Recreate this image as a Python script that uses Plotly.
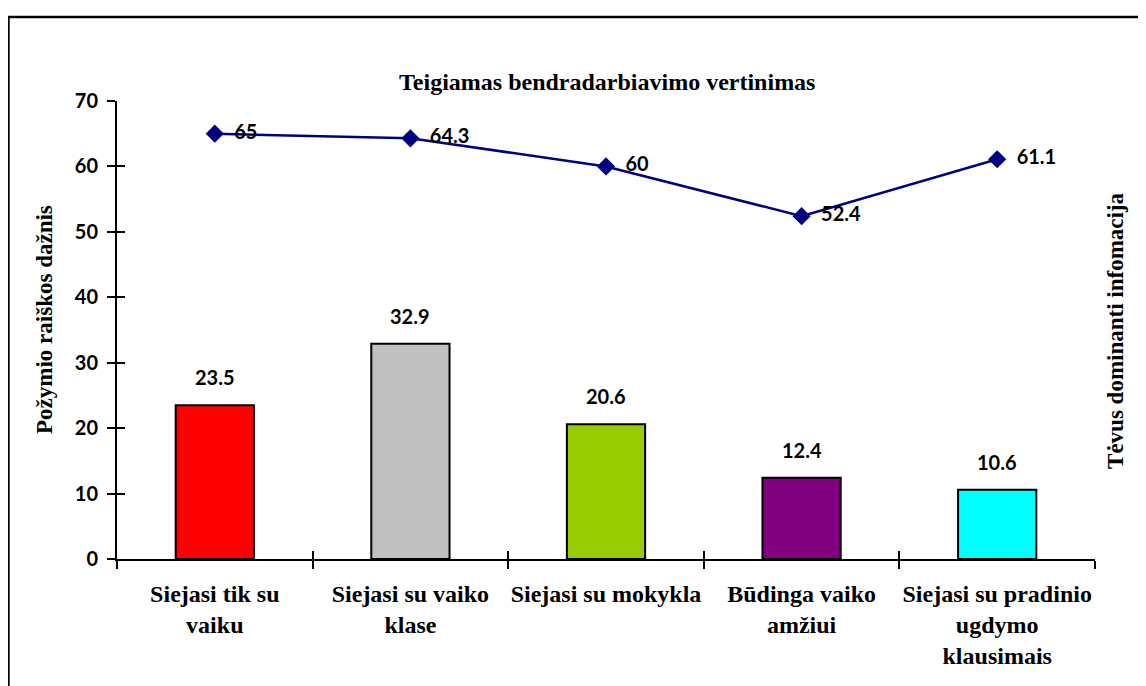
import plotly.graph_objects as go

categories = [
    "Siejasi tik su<br>vaiku",
    "Siejasi su vaiko<br>klase",
    "Siejasi su mokykla",
    "Būdinga vaiko<br>amžiui",
    "Siejasi su pradinio<br>ugdymo<br>klausimais",
]
bar_values = [23.5, 32.9, 20.6, 12.4, 10.6]
line_values = [65, 64.3, 60, 52.4, 61.1]
bar_colors = ["#FF0000", "#C0C0C0", "#99CC00", "#800080", "#00FFFF"]

SERIF = "Liberation Serif, Times New Roman, serif"
SANS = "Lato, Calibri, sans-serif"

fig = go.Figure()

fig.add_trace(
    go.Bar(
        x=categories,
        y=bar_values,
        width=0.4,
        marker=dict(color=bar_colors, line=dict(color="black", width=2)),
        showlegend=False,
        hoverinfo="skip",
    )
)

fig.add_trace(
    go.Scatter(
        x=categories,
        y=line_values,
        mode="lines+markers+text",
        line=dict(color="#000080", width=2.5),
        marker=dict(symbol="diamond", size=14, color="#000080"),
        text=[f"  {v:g}" for v in line_values],
        textposition="middle right",
        textfont=dict(family=SANS, size=20, color="black", weight="bold"),
        showlegend=False,
        hoverinfo="skip",
    )
)

# empty trace so the overlaid axes (inner half of the cross ticks) are drawn
fig.add_trace(go.Scatter(x=[], y=[], xaxis="x2", yaxis="y2", showlegend=False))

# bar value labels above bars
for c, v in zip(categories, bar_values):
    fig.add_annotation(
        x=c, y=v, text=f"{v:g}", showarrow=False, yshift=28,
        font=dict(family=SANS, size=20, color="black", weight="bold"),
    )

fig.add_annotation(
    xref="paper", yref="paper", x=0.501, y=1.0415, xanchor="center", yanchor="middle",
    text="Teigiamas bendradarbiavimo vertinimas", showarrow=False,
    font=dict(family=SERIF, size=24, color="black", weight="bold"),
)
fig.add_annotation(
    xref="paper", yref="paper", x=-0.0736, y=0.522, xanchor="center", yanchor="middle",
    textangle=-90,
    text="Požymio raiškos dažnis", showarrow=False,
    font=dict(family=SERIF, size=23, color="black", weight="bold"),
)
fig.add_annotation(
    xref="paper", yref="paper", x=1.0204, y=0.5, xanchor="center", yanchor="middle",
    textangle=-90,
    text="Tėvus dominanti infomacija", showarrow=False,
    font=dict(family=SERIF, size=23, color="black", weight="bold"),
)

# outer chart frame
fig.add_shape(
    type="rect", xref="paper", yref="paper",
    x0=-0.111, x1=1.3, y0=-0.5, y1=1.1834,
    line=dict(color="black", width=2.5), fillcolor="rgba(0,0,0,0)",
)

fig.update_layout(
    width=1138,
    height=678,
    margin=dict(l=109, r=51, t=93, b=127),
    paper_bgcolor="white",
    plot_bgcolor="white",
    bargap=0.6,
    xaxis=dict(
        type="category", automargin=False, tickangle=0, ticklabelstandoff=12,
        showline=True, linecolor="black", linewidth=2,
        ticks="outside", tickson="boundaries", ticklen=8, tickwidth=2, tickcolor="black",
        tickfont=dict(family=SERIF, size=24, color="black", weight="bold"),
        showgrid=False, zeroline=False,
    ),
    yaxis=dict(
        range=[0, 70], dtick=10, automargin=False, ticklabelstandoff=5,
        showline=True, linecolor="black", linewidth=2,
        ticks="outside", ticklen=8, tickwidth=2, tickcolor="black",
        tickfont=dict(family=SANS, size=20, color="black", weight="bold"),
        showgrid=False, zeroline=False,
    ),
    xaxis2=dict(
        overlaying="x", anchor="y2", range=[-0.5, 4.5], automargin=False,
        tickvals=[-0.5, 0.5, 1.5, 2.5, 3.5, 4.5],
        ticks="inside", ticklen=8, tickwidth=2, tickcolor="black",
        showticklabels=False, showline=False, showgrid=False, zeroline=False,
    ),
    yaxis2=dict(
        overlaying="y", anchor="x2", side="left", range=[0, 70], dtick=10, automargin=False,
        ticks="inside", ticklen=8, tickwidth=2, tickcolor="black",
        showticklabels=False, showline=False, showgrid=False, zeroline=False,
    ),
)

fig.write_html("out.html")
